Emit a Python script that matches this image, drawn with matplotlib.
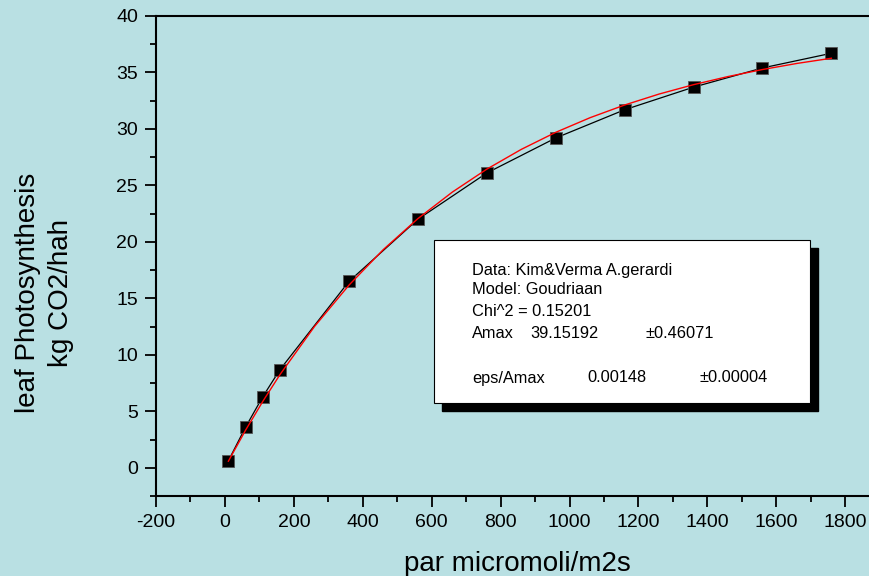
import matplotlib.pyplot as plt
from matplotlib.patches import Rectangle
from matplotlib.ticker import MultipleLocator

# measured points
par = [10, 60, 110, 160, 360, 560, 760, 960, 1160, 1360, 1560, 1760]
photo = [0.62, 3.6, 6.3, 8.7, 16.5, 22.0, 26.1, 29.2, 31.7, 33.7, 35.4, 36.7]

# fitted curve (red)
fit_par = [10, 60, 110, 160, 260, 360, 460, 560, 660, 760, 860, 960, 1060,
           1160, 1260, 1360, 1460, 1560, 1660, 1760]
fit_photo = [0.58, 3.33, 5.88, 8.26, 12.51, 16.17, 19.33, 22.06, 24.41, 26.44,
             28.19, 29.70, 31.00, 32.12, 33.09, 33.92, 34.64, 35.26, 35.80, 36.26]

info_lines = ["Data: Kim&Verma A.gerardi", "Model: Goudriaan", "Chi^2 = 0.15201"]
amax_row = ["Amax", "39.15192", "\u00b10.46071"]
eps_row = ["eps/Amax", "0.00148", "\u00b10.00004"]

bg = "#b9e0e3"
plt.rcParams["font.family"] = ["Liberation Sans", "DejaVu Sans"]
plt.rcParams["axes.unicode_minus"] = False

W, H = 870, 576
fig = plt.figure(figsize=(W / 100, H / 100), dpi=100, facecolor=bg)
ax = fig.add_axes([156 / W, 1 - 496 / H, 1 - 156 / W, (496 - 16) / H])
ax.set_facecolor(bg)

ax.plot(par, photo, color="black", lw=0.9, marker="s", markersize=8.5,
        markerfacecolor="black", markeredgecolor="#555555", markeredgewidth=0.6, zorder=3)
ax.plot(fit_par, fit_photo, color="red", lw=1.0, zorder=4)

ax.set_xlim(-200, 1872)
ax.set_ylim(-2.5, 40)
ax.xaxis.set_major_locator(MultipleLocator(200))
ax.xaxis.set_minor_locator(MultipleLocator(100))
ax.yaxis.set_major_locator(MultipleLocator(5))
ax.yaxis.set_minor_locator(MultipleLocator(2.5))
ax.tick_params(which="major", direction="out", length=8, width=1.3, labelsize=14, pad=5)
ax.tick_params(which="minor", direction="out", length=4, width=1.3)
ax.tick_params(axis="x", which="both", top=False)
ax.tick_params(axis="y", which="both", right=False)
ax.spines["right"].set_visible(False)
for s in ["left", "top", "bottom"]:
    ax.spines[s].set_linewidth(1.5)

fig.text(517 / W, 1 - 564 / H, "par micromoli/m2s", fontsize=20, ha="center", va="center")
fig.text(45 / W, 1 - 293 / H, "leaf Photosynthesis\nkg CO2/hah", fontsize=20,
         rotation=90, ha="center", va="center", linespacing=1.35)

# info box with shadow
fig.patches.append(Rectangle((442 / W, 1 - 411 / H), (810 - 434) / W, (403 - 240) / H,
                             transform=fig.transFigure, facecolor="black", edgecolor="black", zorder=5))
fig.patches.append(Rectangle((434 / W, 1 - 403 / H), (810 - 434) / W, (403 - 240) / H,
                             transform=fig.transFigure, facecolor="white", edgecolor="black",
                             lw=0.8, zorder=6))
ys = [270, 290, 312]
for y, t in zip(ys, info_lines):
    fig.text(472 / W, 1 - y / H, t, fontsize=11.8, va="center", zorder=7)
for x, t in zip([472, 530, 645], amax_row):
    fig.text(x / W, 1 - 334 / H, t, fontsize=11.8, va="center", zorder=7)
for x, t in zip([472, 587, 700], eps_row):
    fig.text(x / W, 1 - 378 / H, t, fontsize=11.8, va="center", zorder=7)

fig.savefig("out.png", dpi=100, facecolor=bg)
